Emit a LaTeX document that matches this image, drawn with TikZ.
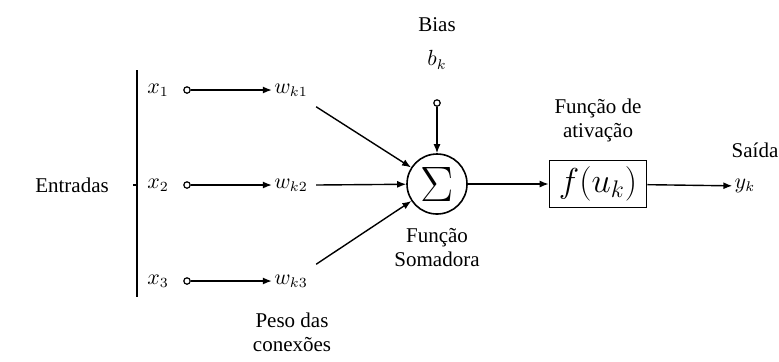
\documentclass[tikz,border=0pt]{standalone}
\usepackage{fontspec}
\setmainfont{Liberation Serif}
\usetikzlibrary{arrows.meta}

\tikzset{
    txt/.style={font=\fontsize{10.5}{12}\selectfont, inner sep=1pt},
    pino/.style={circle, draw, minimum size=3.2pt, inner sep=0pt, line width=0.6pt},
    seta/.style={-{Latex[length=4.5pt,width=3.5pt]}, line width=0.7pt},
    linha/.style={line width=0.7pt}
}

\begin{document}
\begin{tikzpicture}[x=0.5pt, y=-0.5pt]
    \useasboundingbox (0,0) rectangle (779,361);

    % Entradas e colchete
    \node[txt] (entradas) at (72,185) {Entradas};
    \coordinate (ctop) at (137,70);
    \coordinate (cbot) at (137,297);
    \coordinate (cmid) at (137,185);
    \draw[linha] (ctop) -- (cbot);
    \draw[linha] (cmid) -- ++(-4,0);

    % Sinais de entrada
    \node[txt] (x1) at (158,90) {$x_1$};
    \node[txt] (x2) at (158,185) {$x_2$};
    \node[txt] (x3) at (158,281) {$x_3$};
    \node[pino] (in1) at (187,90) {};
    \node[pino] (in2) at (187,185) {};
    \node[pino] (in3) at (187,281) {};

    % Pesos
    \node[txt] (wk1) at (291,90) {$w_{k1}$};
    \node[txt] (wk2) at (291,185) {$w_{k2}$};
    \node[txt] (wk3) at (291,281) {$w_{k3}$};
    \draw[seta] (in1) -- (wk1);
    \draw[seta] (in2) -- (wk2);
    \draw[seta] (in3) -- (wk3);
    \node[txt, align=center] (peso) at (292,332) {Peso das\\conexões};

    % Somador
    \node[circle, draw, line width=0.8pt, minimum size=30pt, inner sep=0pt,
          font=\fontsize{26}{28}\selectfont] (soma) at (437,184) {$\Sigma$};
    \draw[seta] (wk1.south east) ++(6,8) -- (soma);
    \draw[seta] (wk2.east) ++(6,0) -- (soma);
    \draw[seta] (wk3.north east) ++(6,-8) -- (soma);
    \node[txt, align=center] (somadora) at (437,248) {Função\\Somadora};

    % Bias
    \node[txt] (biaslbl) at (437,25) {Bias};
    \node[txt] (bk) at (437,60) {$b_k$};
    \node[pino] (bias) at (437,103) {};
    \draw[seta] (bias) -- (soma);

    % Ativacao
    \node[draw, line width=0.8pt, minimum width=48.5pt, minimum height=23.5pt,
          inner sep=0pt, font=\fontsize{18}{20}\selectfont] (ativ) at (598,184) {$f(u_k)$};
    \node[txt, align=center] (ativlbl) at (598,120) {Função de\\ativação};
    \draw[seta] (soma) -- (ativ);

    % Saida
    \node[txt] (yk) at (745,186) {$y_k$};
    \node[txt] (saida) at (755,150) {Saída};
    \draw[seta] (ativ) -- (yk);
\end{tikzpicture}
\end{document}
